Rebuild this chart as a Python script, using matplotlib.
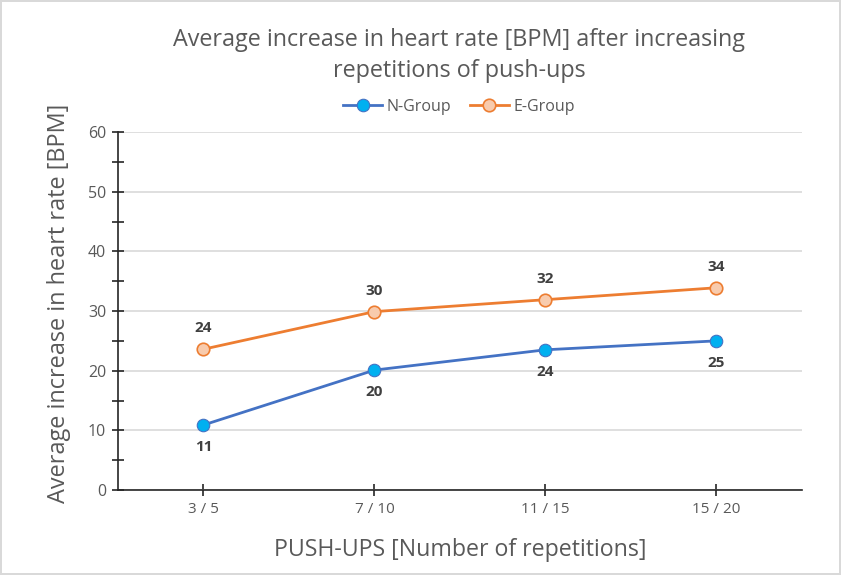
import matplotlib
matplotlib.use("Agg")
import matplotlib.pyplot as plt
from matplotlib.ticker import MultipleLocator

# data
categories = ["3 / 5", "7 / 10", "11 / 15", "15 / 20"]
n_group = [10.9, 20.1, 23.5, 25.0]
e_group = [23.6, 29.9, 31.9, 33.9]
n_labels = ["11", "20", "24", "25"]
e_labels = ["24", "30", "32", "34"]

plt.rcParams['font.family'] = ['Open Sans', 'DejaVu Sans']
grey = '#595959'

fig = plt.figure(figsize=(8.41, 5.75), dpi=100)
fig.patch.set_edgecolor('#d9d9d9')
fig.patch.set_linewidth(1.5)
ax = fig.add_axes([0.1403, 0.1478, 0.8133, 0.6226])

x = list(range(len(categories)))
ax.plot(x, n_group, color='#4472c4', lw=2, marker='o', ms=9,
        mfc='#00b0f0', mec='#4472c4', mew=0.8, label='N-Group', zorder=3)
ax.plot(x, e_group, color='#ed7d31', lw=2, marker='o', ms=9,
        mfc='#f8cbad', mec='#ed7d31', mew=1.2, label='E-Group', zorder=3)

for xi, v, s in zip(x, n_group, n_labels):
    ax.annotate(s, (xi, v), xytext=(0, -11), textcoords='offset points',
                ha='center', va='top', fontsize=11, fontweight='bold', color='#404040')
for xi, v, s in zip(x, e_group, e_labels):
    ax.annotate(s, (xi, v), xytext=(0, 10), textcoords='offset points',
                ha='center', va='bottom', fontsize=11, fontweight='bold', color='#404040')

ax.set_xlim(-0.5, 3.5)
ax.set_ylim(0, 60)
ax.set_xticks(x)
ax.set_xticklabels(categories)
ax.yaxis.set_major_locator(MultipleLocator(10))
ax.yaxis.set_minor_locator(MultipleLocator(5))
ax.grid(axis='y', color='#d9d9d9', lw=1.2)
ax.set_axisbelow(True)
for side in ['top', 'right']:
    ax.spines[side].set_visible(False)
for side in ['left', 'bottom']:
    ax.spines[side].set_color('#262626')
    ax.spines[side].set_linewidth(1.2)
ax.tick_params(axis='both', which='both', direction='inout', color='#262626', labelcolor=grey)
ax.tick_params(axis='x', length=9, width=1.2, labelsize=11, pad=4)
ax.tick_params(axis='y', which='major', length=9, width=1.2, labelsize=11.5, pad=4)
ax.tick_params(axis='y', which='minor', length=9, width=1.2)

ax.set_xlabel('PUSH-UPS [Number of repetitions]', fontsize=16.7, color=grey, labelpad=15)
ax.set_ylabel('Average increase in heart rate [BPM]', fontsize=16.9, color=grey)
ax.yaxis.set_label_coords(-0.069, 0.52)

fig.text(0.546, 0.9035, 'Average increase in heart rate [BPM] after increasing\nrepetitions of push-ups',
         ha='center', va='center', fontsize=16.8, color=grey, linespacing=1.38)
fig.legend(loc='center', bbox_to_anchor=(0.546, 0.814), ncol=2, frameon=False,
           fontsize=11.5, labelcolor=grey, handlelength=2.4, columnspacing=1.2,
           handletextpad=0.3)

fig.savefig('out.png', dpi=100)
